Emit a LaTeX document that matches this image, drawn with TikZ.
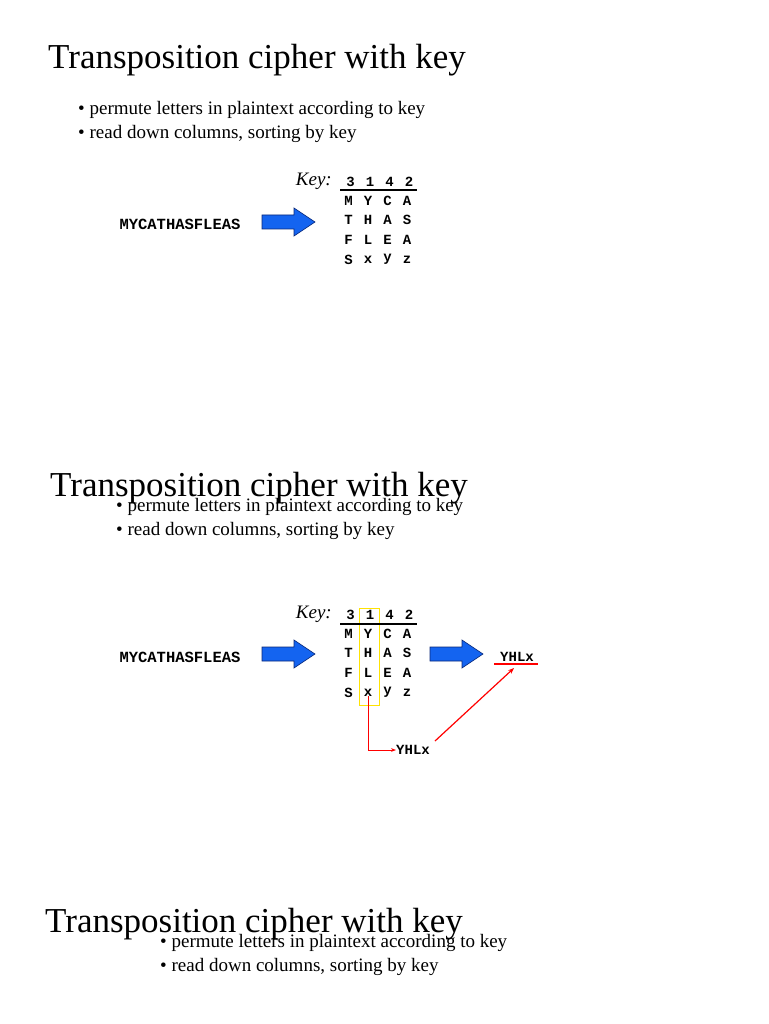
\documentclass[tikz,border=0pt]{standalone}
\usepackage{fontspec}
\setmainfont{Liberation Serif}
\setmonofont{Liberation Mono}
\usetikzlibrary{arrows.meta}
\begin{document}
\begin{tikzpicture}[x=1pt,y=-1pt,
  title/.style={anchor=west,font=\fontsize{35}{38}\selectfont,inner sep=0},
  bul/.style={anchor=west,font=\fontsize{19}{20}\selectfont,inner sep=0},
  mono/.style={font=\ttfamily\bfseries\fontsize{14}{15}\selectfont,inner sep=0},
  mono2/.style={font=\ttfamily\bfseries\fontsize{15.5}{16}\selectfont,inner sep=0},
  key/.style={anchor=east,font=\itshape\fontsize{19}{20}\selectfont,inner sep=0},
  barrow/.style={fill={rgb,255:red,20;green,100;blue,240},draw={rgb,255:red,10;green,40;blue,120},line width=0.6pt}]
\useasboundingbox (0,0) rectangle (768,1024);
\def\blockarrow#1#2{\draw[barrow,shift={(#1,#2)}] (0,-7) -- (32,-7) -- (32,-14) -- (53,0) -- (32,14) -- (32,7) -- (0,7) -- cycle;}
% slide 1
\node[title] (t1) at (48,60) {Transposition cipher with key};
\node[bul] (b1a) at (78,110) {\textbullet\ permute letters in plaintext according to key};
\node[bul] (b1b) at (78,134) {\textbullet\ read down columns, sorting by key};
\node[key] (k1) at (332,181) {Key:};
\node[mono2] (p1) at (180,224) {MYCATHASFLEAS};
\blockarrow{262}{222}
\foreach \c [count=\i] in {3,1,4,2}{\node[mono] (ka\i) at (331+\i*19.5,182) {\c};}
\draw[line width=1.2pt] (340,190) -- (417,190);
\foreach \r [count=\j] in {{M,Y,C,A},{T,H,A,S},{F,L,E,A},{S,x,y,z}}{
  \foreach \c [count=\i] in \r {\node[mono] (g1-\j-\i) at (329+\i*19.5,181+\j*19.6) {\c};}}
% slide 2
\node[title] (t2) at (50,488) {Transposition cipher with key};
\node[bul] (b2a) at (116,507) {\textbullet\ permute letters in plaintext according to key};
\node[bul] (b2b) at (116,531) {\textbullet\ read down columns, sorting by key};
\node[key] (k2) at (332,614) {Key:};
\node[mono2] (p2) at (180,657) {MYCATHASFLEAS};
\blockarrow{262}{654}
\blockarrow{430}{654}
\draw[yellow!85!orange,line width=0.7pt] (359,608) rectangle (379,705);
\foreach \c [count=\i] in {3,1,4,2}{\node[mono] (kb\i) at (331+\i*19.5,615) {\c};}
\draw[line width=1.2pt] (340,624) -- (417,624);
\foreach \r [count=\j] in {{M,Y,C,A},{T,H,A,S},{F,L,E,A},{S,x,y,z}}{
  \foreach \c [count=\i] in \r {\node[mono] (g2-\j-\i) at (329+\i*19.5,614+\j*19.6) {\c};}}
\node[mono,anchor=west] (y1) at (396,750) {YHLx};
\node[mono] (y2) at (517,657) {YHLx};
\draw[red,line width=1.5pt] (494,664) -- (538,664);
\draw[red,line width=0.9pt,-{Stealth[length=5pt]}] (g2-4-2.south) |- (y1.west);
\draw[red,line width=1.2pt,-{Stealth[length=6pt]}] (435,741) -- (514,668);
% slide 3
\node[title] (t3) at (45,924) {Transposition cipher with key};
\node[bul] (b3a) at (160,943) {\textbullet\ permute letters in plaintext according to key};
\node[bul] (b3b) at (160,967) {\textbullet\ read down columns, sorting by key};
\end{tikzpicture}
\end{document}
